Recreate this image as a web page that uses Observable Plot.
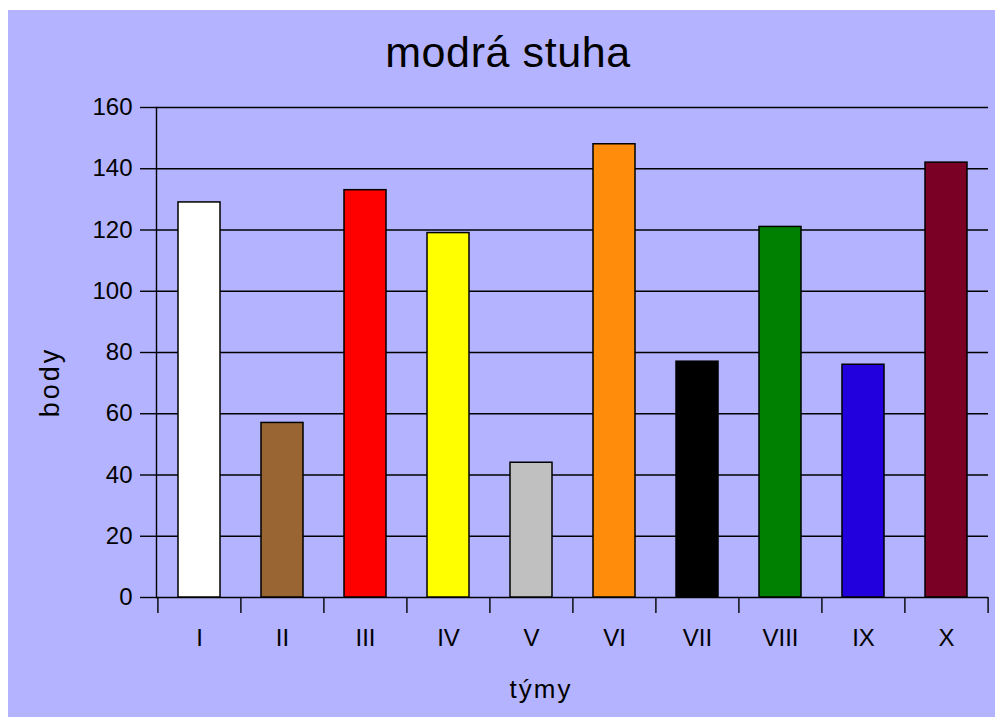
<!DOCTYPE html>
<html><head><meta charset="utf-8">
<script src="https://cdn.jsdelivr.net/npm/d3@7"></script>
<script src="https://cdn.jsdelivr.net/npm/@observablehq/plot@0.6"></script>
<style>
html,body{margin:0;padding:0;background:#fff;}
body{width:995px;height:717px;overflow:hidden;position:relative;font-family:"Liberation Sans",Arial,sans-serif;}
#panel{position:absolute;left:8px;top:10px;width:987px;height:707px;background:#b3b3ff;}
#chart{position:absolute;left:0;top:0;}
.lbl{position:absolute;line-height:1;white-space:nowrap;color:#000;}
#title{font-size:43px;letter-spacing:0.6px;left:500px;top:20.6px;transform:translateX(-50%);}
#xlabel{font-size:26px;letter-spacing:2px;left:533px;top:666px;transform:translateX(-50%);}
#ylabel{font-size:27px;letter-spacing:3px;left:42px;top:372px;transform:translate(-50%,-50%) rotate(-90deg);}
</style>
</head><body>
<div id="panel">
  <div id="chart"></div>
  <div id="title" class="lbl">modrá stuha</div>
  <div id="xlabel" class="lbl">týmy</div>
  <div id="ylabel" class="lbl">body</div>
</div>
<script>
const teams = ["I","II","III","IV","V","VI","VII","VIII","IX","X"];
const points = [129, 57, 133, 119, 44, 148, 77, 121, 76, 142];
const colors = ["#ffffff","#996633","#ff0000","#ffff00","#c0c0c0","#ff8c0a","#000000","#008000","#2200dd","#7a0026"];
const yTicks = [0,20,40,60,80,100,120,140,160];

const data = teams.map((t,i)=>({team:t, points:points[i], color:colors[i]}));

const W = 987, H = 707, ML = 148, MR = 7, MT = 97, MB = 120;
const step = (W - ML - MR) / teams.length;
const tickLen = 16;
const unitsPerPx = 160 / (H - MT - MB);

const chart = Plot.plot({
  width: W, height: H,
  marginLeft: ML, marginRight: MR, marginTop: MT, marginBottom: MB,
  style: {background: "transparent", fontFamily: "'Liberation Sans', Arial, sans-serif", color: "#000", overflow: "visible"},
  x: {domain: teams, paddingInner: 0.5, paddingOuter: 0.25, label: null},
  y: {domain: [0,160], label: null},
  color: {type: "identity"},
  marks: [
    Plot.ruleY(yTicks, {stroke: "#000", strokeWidth: 1.4}),
    Plot.frame({anchor: "left", stroke: "#000", strokeWidth: 1.4}),
    Plot.barY(data, {x: "team", y: "points", fill: "color", stroke: "#000", strokeWidth: 1.5}),
    Plot.ruleX(teams, {x: d => d, dx: -step/2, y1: 0, y2: -tickLen*unitsPerPx, stroke: "#000", strokeWidth: 1.4}),
    Plot.ruleX([teams[teams.length-1]], {x: d => d, dx: step/2, y1: 0, y2: -tickLen*unitsPerPx, stroke: "#000", strokeWidth: 1.4}),
    Plot.axisY(yTicks, {tickSize: tickLen, tickPadding: 8, fontSize: 24, label: null, strokeWidth: 1.4}),
    Plot.axisX(teams, {tickSize: 0, tickPadding: 31, fontSize: 24, label: null})
  ]
});
document.getElementById("chart").appendChild(chart);
</script>
</body></html>
